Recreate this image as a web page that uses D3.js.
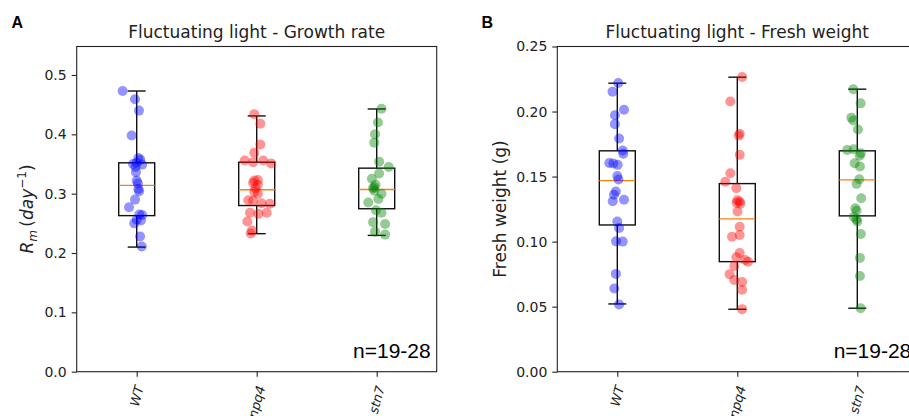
<!DOCTYPE html>
<html>
<head>
<meta charset="utf-8">
<script src="https://cdn.jsdelivr.net/npm/d3@7"></script>
<style>
body { margin: 0; background: #fff; }
</style>
</head>
<body>
<div id="chart"></div>
<script>
// categories and tick labels
var categories = ["WT", "npq4", "stn7"];
var colors = ["blue", "red", "green"];
var growthTicks = [0.0, 0.1, 0.2, 0.3, 0.4, 0.5];
var weightTicks = [0.00, 0.05, 0.10, 0.15, 0.20, 0.25];

// Panel A - growth rate values (day^-1), one list per genotype
var growthWT   = [0.473, 0.459, 0.440, 0.398, 0.360, 0.357, 0.352, 0.349, 0.350, 0.345, 0.336, 0.322,
                  0.317, 0.308, 0.304, 0.290, 0.277, 0.265, 0.264, 0.256, 0.255, 0.250, 0.228, 0.211];
var growthNpq4 = [0.434, 0.418, 0.383, 0.369, 0.356, 0.353, 0.356, 0.351, 0.322, 0.323, 0.318, 0.315,
                  0.309, 0.303, 0.300, 0.289, 0.288, 0.284, 0.283, 0.268, 0.266, 0.268, 0.253, 0.238, 0.233];
var growthStn7 = [0.443, 0.420, 0.400, 0.386, 0.354, 0.345, 0.334, 0.325, 0.315, 0.311, 0.309, 0.305,
                  0.300, 0.291, 0.285, 0.272, 0.268, 0.252, 0.249, 0.236, 0.231];
// horizontal jitter of each dot (category units)
var growthJitWT   = [-0.117, -0.014, 0.019, -0.042, 0.014, 0.030, 0.000, 0.045, -0.030, -0.010, -0.006, 0.000,
                     0.010, 0.014, 0.020, -0.014, -0.064, 0.022, 0.045, 0.000, 0.035, -0.020, 0.028, 0.042];
var growthJitNpq4 = [-0.020, 0.030, 0.030, -0.020, -0.100, -0.030, 0.055, 0.120, -0.020, 0.010, -0.030, 0.010,
                     -0.010, -0.020, 0.010, -0.070, -0.030, 0.040, 0.110, -0.056, 0.014, 0.083, -0.078, -0.040, -0.050];
var growthJitStn7 = [0.040, 0.010, -0.014, -0.020, 0.020, 0.100, 0.020, -0.040, -0.010, -0.020, -0.030, -0.020,
                     0.040, 0.014, -0.070, -0.006, 0.040, -0.030, 0.070, -0.014, 0.070];
// box stats [whisker low, Q1, median, Q3, whisker high]
var growthBoxes = [[0.210, 0.263, 0.314, 0.352, 0.473],
                   [0.2326, 0.280, 0.3065, 0.353, 0.431],
                   [0.2297, 0.2746, 0.307, 0.343, 0.4427]];

// Panel B - fresh weight values (g)
var weightWT   = [0.2220, 0.2153, 0.2014, 0.1972, 0.1903, 0.1793, 0.1700, 0.1675, 0.1605, 0.1600, 0.1590, 0.1505,
                  0.1478, 0.1385, 0.1360, 0.1310, 0.1322, 0.1155, 0.1105, 0.1002, 0.1000, 0.0752, 0.0640, 0.0517];
var weightNpq4 = [0.2265, 0.2077, 0.1829, 0.1815, 0.1667, 0.1526, 0.1460, 0.1411, 0.1318, 0.1308, 0.1298, 0.1292,
                  0.1231, 0.1115, 0.1038, 0.1051, 0.0913, 0.0880, 0.0859, 0.0846, 0.0812, 0.0750, 0.0705, 0.0690,
                  0.0630, 0.0481];
var weightStn7 = [0.2172, 0.2063, 0.1953, 0.1931, 0.1862, 0.1705, 0.1710, 0.1680, 0.1660, 0.1603, 0.1577, 0.1480,
                  0.1444, 0.1334, 0.1257, 0.1238, 0.1190, 0.1170, 0.1154, 0.1058, 0.0875, 0.0736, 0.0488];
var weightJitWT   = [0.008, -0.040, 0.056, -0.020, -0.020, 0.015, 0.045, 0.050, -0.067, -0.033, 0.003, 0.000,
                     0.010, -0.012, -0.028, -0.038, 0.056, 0.000, 0.015, -0.010, 0.045, -0.012, -0.025, 0.015];
var weightJitNpq4 = [0.040, -0.058, 0.020, 0.012, 0.020, -0.058, -0.100, -0.008, 0.000, 0.020, -0.005, 0.025,
                     0.002, 0.020, -0.044, 0.020, 0.020, -0.008, 0.065, 0.090, -0.025, -0.064, -0.025, 0.040,
                     0.040, 0.040];
var weightJitStn7 = [-0.033, 0.028, -0.050, -0.033, 0.005, -0.084, -0.030, 0.030, 0.020, -0.022, 0.022, 0.017,
                     -0.006, 0.033, -0.017, -0.006, -0.028, -0.006, 0.000, 0.030, 0.022, 0.022, 0.028];
var weightBoxes = [[0.0521, 0.1128, 0.1469, 0.1698, 0.2218],
                   [0.0480, 0.0846, 0.1175, 0.1446, 0.2264],
                   [0.0488, 0.1198, 0.1475, 0.1698, 0.2172]];

var svg = d3.select("#chart")
			.append("svg")
			.attr("width", 909)
			.attr("height", 416);

function drawPanel(p){
	var g = svg.append("g")
			.attr("transform", "translate(" + p.left + "," + p.top + ")");

	var x = d3.scalePoint().domain(categories).range([0, p.width]).padding(0.5);
	var y = d3.scaleLinear().domain(p.yDomain).range([p.height, 0]);
	var step = x.step();

	// axes
	var yAxis = d3.axisLeft(y).tickValues(p.ticks).tickFormat(d3.format(p.fmt))
				.tickSize(5).tickPadding(5).tickSizeOuter(0);
	var xAxis = d3.axisBottom(x).tickSize(5).tickSizeOuter(0).tickFormat("");

	var ya = g.append("g").call(yAxis);
	var xa = g.append("g").attr("transform", "translate(0," + p.height + ")").call(xAxis);
	[ya, xa].forEach(function(a){
		a.select(".domain").remove();
		a.selectAll("line").attr("stroke", "#222").attr("stroke-width", 1.1);
		a.selectAll("text").attr("fill", "#222")
			.style("font-family", "DejaVu Sans").style("font-size", "14px");
	});

	// rotated italic category labels under the ticks
	categories.forEach(function(c){
		var t = g.append("text")
				.attr("text-anchor", "middle")
				.attr("dy", "0.35em")
				.style("font-family", "DejaVu Sans")
				.style("font-style", "italic")
				.style("font-size", "13px")
				.attr("fill", "#222")
				.text(c);
		var len = t.node().getComputedTextLength();
		var a = 75 * Math.PI / 180;
		var h = len * Math.sin(a) + 10 * Math.cos(a);
		t.attr("transform", "translate(" + x(c) + "," + (p.height + 13 + h / 2) + ") rotate(-75)");
	});

	// frame
	g.append("rect")
		.attr("width", p.width).attr("height", p.height)
		.attr("fill", "none").attr("stroke", "#222").attr("stroke-width", 1.1);

	// boxes
	var bw = 0.3 * step, cw = 0.15 * step;
	p.boxes.forEach(function(b, i){
		var cx = x(categories[i]);
		var bg = g.append("g").attr("stroke", "#111").attr("stroke-width", 1.4).attr("fill", "none");
		bg.append("line").attr("x1", cx).attr("x2", cx).attr("y1", y(b[0])).attr("y2", y(b[1]));
		bg.append("line").attr("x1", cx).attr("x2", cx).attr("y1", y(b[3])).attr("y2", y(b[4]));
		bg.append("line").attr("x1", cx - cw / 2).attr("x2", cx + cw / 2).attr("y1", y(b[0])).attr("y2", y(b[0]));
		bg.append("line").attr("x1", cx - cw / 2).attr("x2", cx + cw / 2).attr("y1", y(b[4])).attr("y2", y(b[4]));
		bg.append("rect").attr("x", cx - bw / 2).attr("width", bw)
			.attr("y", y(b[3])).attr("height", y(b[1]) - y(b[3]));
		g.append("line").attr("x1", cx - bw / 2).attr("x2", cx + bw / 2)
			.attr("y1", y(b[2])).attr("y2", y(b[2]))
			.attr("stroke", "#ff7f0e").attr("stroke-width", 1.4);
	});

	// dots
	p.values.forEach(function(vals, i){
		var cx = x(categories[i]);
		g.append("g").selectAll("circle")
			.data(vals)
			.enter().append("circle")
			.attr("cx", function(d, k){ return cx + p.jitter[i][k] * step; })
			.attr("cy", function(d){ return y(d); })
			.attr("r", 5)
			.attr("fill", colors[i])
			.attr("fill-opacity", 0.42);
	});

	// title
	g.append("text")
		.attr("x", p.width / 2).attr("y", -8.5)
		.attr("text-anchor", "middle")
		.style("font-family", "DejaVu Sans").style("font-size", "17px")
		.attr("fill", "#222")
		.text(p.title);

	// n annotation
	g.append("text")
		.attr("x", p.width - 6).attr("y", p.height - 13.4)
		.attr("text-anchor", "end")
		.style("font-family", "Liberation Sans, Arial").style("font-size", "21px")
		.attr("fill", "#000")
		.text("n=19-28");

	// panel letter
	svg.append("text")
		.attr("x", p.letterX).attr("y", 28)
		.style("font-family", "Liberation Sans, Arial").style("font-weight", "bold").style("font-size", "16px")
		.text(p.letter);

	return g;
}

var gA = drawPanel({
	left: 76.7, top: 46.5, width: 360, height: 325.2,
	yDomain: [0, 0.548], ticks: growthTicks, fmt: ".1f",
	values: [growthWT, growthNpq4, growthStn7],
	jitter: [growthJitWT, growthJitNpq4, growthJitStn7],
	boxes: growthBoxes,
	title: "Fluctuating light - Growth rate",
	letter: "A", letterX: 11.5
});

var gB = drawPanel({
	left: 557.3, top: 46.5, width: 360, height: 325.2,
	yDomain: [0, 0.25], ticks: weightTicks, fmt: ".2f",
	values: [weightWT, weightNpq4, weightStn7],
	jitter: [weightJitWT, weightJitNpq4, weightJitStn7],
	boxes: weightBoxes,
	title: "Fluctuating light - Fresh weight",
	letter: "B", letterX: 481.5
});

// y axis labels
var labA = svg.append("text")
		.attr("transform", "translate(33,209) rotate(-90)")
		.attr("text-anchor", "middle")
		.style("font-family", "DejaVu Sans").style("font-size", "17px")
		.attr("fill", "#222");
labA.append("tspan").style("font-style", "italic").text("R");
labA.append("tspan").style("font-style", "italic").style("font-size", "12px").attr("dy", 3.5).text("m");
labA.append("tspan").attr("dy", -3.5).text("\u2009(");
labA.append("tspan").style("font-style", "italic").text("day");
labA.append("tspan").style("font-size", "12px").attr("dy", -7).text("\u22121");
labA.append("tspan").attr("dy", 7).text(")");

svg.append("text")
	.attr("transform", "translate(506,209) rotate(-90)")
	.attr("text-anchor", "middle")
	.style("font-family", "DejaVu Sans").style("font-size", "17px")
	.attr("fill", "#222")
	.text("Fresh weight (g)");
</script>
</body>
</html>
